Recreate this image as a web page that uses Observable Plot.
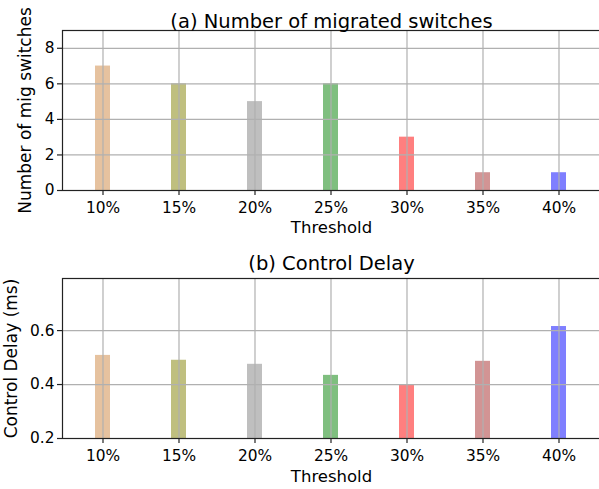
<!DOCTYPE html>
<html>
<head>
<meta charset="utf-8">
<script src="https://cdn.jsdelivr.net/npm/d3@7"></script>
<script src="https://cdn.jsdelivr.net/npm/@observablehq/plot@0.6"></script>
<style>
  html, body { margin: 0; padding: 0; background: white; overflow: hidden; }
  #chart svg { display: block; }
</style>
</head>
<body>
<div id="chart"></div>
<script>
const thresholds = ["10%", "15%", "20%", "25%", "30%", "35%", "40%"];
const migrated = [7, 6, 5, 6, 3, 1, 1];
const delay = [0.508, 0.49, 0.475, 0.434, 0.4, 0.486, 0.615];
const barColors = ["peru", "olive", "gray", "green", "red", "brown", "blue"];
const migTicks = [0, 2, 4, 6, 8];
const delayTicks = [0.2, 0.4, 0.6];

function panel({values, yDomain, yTicks, yFormat, title, yLabel, yLabelDx, height, marginTop, marginBottom, titleDy, xLabelDy}) {
  const rows = thresholds.map((t, i) => ({t, v: values[i]}));
  return Plot.plot({
    width: 599,
    height,
    marginLeft: 62,
    marginRight: -1,
    marginTop,
    marginBottom,
    style: {fontFamily: "DejaVu Sans", fontSize: "15.4px", color: "black", background: "white", overflow: "visible"},
    x: {domain: thresholds, paddingInner: 0.8, paddingOuter: 0.4, label: null},
    y: {domain: yDomain, label: null},
    color: {domain: thresholds, range: barColors},
    marks: [
      Plot.barY(rows, {x: "t", y1: yDomain[0], y2: "v", fill: "t", fillOpacity: 0.5}),
      Plot.gridX(thresholds, {stroke: "#b0b0b0", strokeOpacity: 1, strokeWidth: 1.2}),
      Plot.gridY(yTicks, {stroke: "#b0b0b0", strokeOpacity: 1, strokeWidth: 1.2}),
      Plot.frame({stroke: "#222", strokeWidth: 1.2}),
      Plot.axisX({tickSize: 5, tickPadding: 7, label: null, stroke: "#222", strokeWidth: 1.2}),
      Plot.axisY(yTicks, {tickSize: 5, tickPadding: 3, tickFormat: yFormat, label: null, stroke: "#222", strokeWidth: 1.2}),
      Plot.text(["Threshold"], {frameAnchor: "bottom", textAnchor: "middle", lineAnchor: "middle", dy: xLabelDy, fontSize: 16.5, fill: "black"}),
      Plot.text([yLabel], {frameAnchor: "left", textAnchor: "middle", lineAnchor: "middle", rotate: -90, dx: yLabelDx, fontSize: 17, fill: "black"}),
      Plot.text([title], {frameAnchor: "top", textAnchor: "middle", lineAnchor: "middle", dy: titleDy, fontSize: 19.5, fill: "black"})
    ]
  });
}

const chart = document.getElementById("chart");
chart.append(panel({
  values: migrated, yDomain: [0, 9], yTicks: migTicks, yFormat: d3.format("d"),
  title: "(a) Number of migrated switches", yLabel: "Number of mig switches", yLabelDx: -37.4,
  height: 245, marginTop: 30, marginBottom: 55, titleDy: -8.7, xLabelDy: 37.7
}));
chart.append(panel({
  values: delay, yDomain: [0.2, 0.793], yTicks: delayTicks, yFormat: d3.format(".1f"),
  title: "(b) Control Delay", yLabel: "Control Delay (ms)", yLabelDx: -51.4,
  height: 244, marginTop: 33, marginBottom: 51, titleDy: -14.7, xLabelDy: 38.7
}));
</script>
</body>
</html>
